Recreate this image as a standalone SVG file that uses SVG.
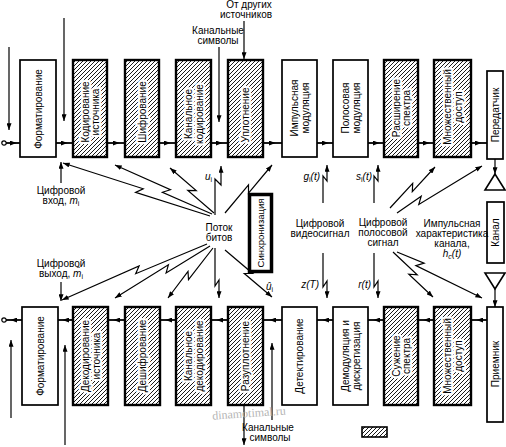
<svg xmlns="http://www.w3.org/2000/svg" width="506" height="447" viewBox="0 0 506 447">
<defs>
<pattern id="hatch" patternUnits="userSpaceOnUse" width="4" height="4">
<path d="M-1,1 L1,-1 M0,4 L4,0 M3,5 L5,3" stroke="#000" stroke-width="0.9"/>
</pattern>
<marker id="ah" viewBox="0 0 8 6" refX="8" refY="3" markerWidth="7" markerHeight="5" orient="auto" markerUnits="userSpaceOnUse"><path d="M0,0 L8,3 L0,6 z" fill="#000"/></marker>
<marker id="am" viewBox="0 0 8 6" refX="5" refY="3" markerWidth="7" markerHeight="5" orient="auto" markerUnits="userSpaceOnUse"><path d="M0,0 L8,3 L0,6 z" fill="#000"/></marker>
<style>
.box{fill:#fff;stroke:#000;stroke-width:1.7}
.hbox{fill:url(#hatch);stroke:#000;stroke-width:2.4}
.lbl{font-family:"Liberation Sans",Arial,sans-serif;font-size:10px;fill:#000}
.halo{stroke:#fff;stroke-width:4.5px;stroke-linejoin:round;paint-order:stroke}
.conn{fill:none;stroke:#000;stroke-width:1.2}
.flow{fill:none;stroke:#000;stroke-width:1.8}
.it{font-style:italic}
</style>
</defs>
<rect width="506" height="447" fill="#fff"/>

<g id="connectors">
<circle cx="4" cy="143" r="2.2" fill="#fff" stroke="#000" stroke-width="1.2"/>
<path class="flow" marker-mid="url(#am)" d="M6,143 H14 H20"/>
<path class="flow" marker-mid="url(#am)" d="M56,143 H65 H73"/>
<path class="flow" marker-mid="url(#am)" d="M107,143 H117 H125"/>
<path class="flow" marker-mid="url(#am)" d="M159,143 H168 H176"/>
<path class="flow" marker-mid="url(#am)" d="M211,143 H220 H228"/>
<path class="flow" marker-mid="url(#am)" d="M263,143 H273 H282"/>
<path class="flow" marker-mid="url(#am)" d="M317,143 H326 H333"/>
<path class="flow" marker-mid="url(#am)" d="M368,143 H377 H384"/>
<path class="flow" marker-mid="url(#am)" d="M418,143 H427 H434"/>
<path class="flow" marker-mid="url(#am)" d="M471,143 H479 H487"/>
<circle cx="4" cy="320" r="2.2" fill="#fff" stroke="#000" stroke-width="1.2"/>
<path class="flow" marker-mid="url(#am)" d="M22,320 H13 H6"/>
<path class="flow" marker-mid="url(#am)" d="M73,320 H65 H58"/>
<path class="flow" marker-mid="url(#am)" d="M125,320 H116 H108"/>
<path class="flow" marker-mid="url(#am)" d="M176,320 H168 H160"/>
<path class="flow" marker-mid="url(#am)" d="M228,320 H219 H211"/>
<path class="flow" marker-mid="url(#am)" d="M282,320 H272 H263"/>
<path class="flow" marker-mid="url(#am)" d="M333,320 H325 H317"/>
<path class="flow" marker-mid="url(#am)" d="M384,320 H376 H368"/>
<path class="flow" marker-mid="url(#am)" d="M434,320 H426 H418"/>
<path class="flow" marker-mid="url(#am)" d="M487,320 H479 H471"/>
<path class="conn" marker-end="url(#ah)" d="M495,159 V174"/>
<path class="conn" marker-end="url(#ah)" d="M495,289 V307"/>
<path class="conn" marker-end="url(#ah)" d="M9,47 V130"/>
<path class="conn" marker-end="url(#ah)" d="M64,18 V121"/>
<path class="conn" marker-end="url(#ah)" d="M11,418 V340"/>
<path class="conn" marker-end="url(#ah)" d="M65,445 V345"/>
<path class="conn" marker-end="url(#ah)" d="M219,47 V122"/>
<path class="conn" marker-end="url(#ah)" d="M244,21 V59"/>
<path class="conn" marker-end="url(#ah)" d="M244,405 V445"/>
<path class="conn" marker-end="url(#ah)" d="M272,420 V343"/>
<path class="conn" marker-end="url(#ah)" d="M61,183 V162"/>
<path class="conn" marker-end="url(#ah)" d="M61,282 V301"/>
<polyline class="conn" marker-end="url(#ah)" points="210,216 135.6,192.4 143.2,188.8 63,163"/>
<polyline class="conn" marker-end="url(#ah)" points="212,214 162.4,192.3 170.4,189.7 115,165"/>
<polyline class="conn" marker-end="url(#ah)" points="214,213 187.8,190.4 196.2,190.6 170,168"/>
<polyline class="conn" marker-end="url(#ah)" points="215,215 215,179 221,185 221,166"/>
<polyline class="conn" marker-end="url(#ah)" points="225,213 248.5,184.8 248.5,193.2 272,165"/>
<polyline class="conn" marker-end="url(#ah)" points="323,203 323,176 327,181 327,165"/>
<polyline class="conn" marker-end="url(#ah)" points="374,203 374,176 378,181 378,165"/>
<polyline class="conn" marker-end="url(#ah)" points="390,208 412.7,183.3 412.3,191.7 435,167"/>
<polyline class="conn" marker-end="url(#ah)" points="397,213 421.2,196.2 418.8,204.4 482,166"/>
<polyline class="conn" marker-end="url(#ah)" points="207,244 135.7,273.7 139.1,265.9 62,300"/>
<polyline class="conn" marker-end="url(#ah)" points="210,246 166.1,272.9 168.4,264.8 115,298"/>
<polyline class="conn" marker-end="url(#ah)" points="213,248 188.5,279.7 188,271.3 168,298"/>
<polyline class="conn" marker-end="url(#ah)" points="215,248 215,286 219,280 219,298"/>
<polyline class="conn" marker-end="url(#ah)" points="225,250 252.7,273.5 244.3,273.5 272,297"/>
<polyline class="conn" marker-end="url(#ah)" points="323,253 323,287 327,281 327,298"/>
<polyline class="conn" marker-end="url(#ah)" points="374,253 374,287 378,281 378,298"/>
<polyline class="conn" marker-end="url(#ah)" points="393,252 417.2,274.8 408.8,274.2 433,297"/>
<polyline class="conn" marker-end="url(#ah)" points="397,252 424.1,263.2 415.9,265.6 482,298"/>
</g>

<g id="tx-format"><rect class="box" x="20" y="60" width="36" height="97"/>
<text class="lbl" text-anchor="middle" transform="translate(41.5,109) rotate(-90)">Форматирование</text></g>
<g id="tx-source-coding"><rect class="hbox" x="73" y="60" width="34" height="97"/>
<text class="lbl halo" text-anchor="middle" transform="translate(88.5,112) rotate(-90)"><tspan x="0" y="0">Кодирование</tspan><tspan x="0" y="10.5">источника</tspan></text></g>
<g id="tx-encryption"><rect class="hbox" x="125" y="60" width="34" height="97"/>
<text class="lbl halo" text-anchor="middle" transform="translate(145.5,112) rotate(-90)">Шифрование</text></g>
<g id="tx-channel-coding"><rect class="hbox" x="176" y="60" width="35" height="97"/>
<text class="lbl halo" text-anchor="middle" transform="translate(192,114) rotate(-90)"><tspan x="0" y="0">Канальное</tspan><tspan x="0" y="10.5">кодирование</tspan></text></g>
<g id="tx-multiplex"><rect class="hbox" x="228" y="60" width="35" height="97"/>
<text class="lbl halo" text-anchor="middle" transform="translate(249,115) rotate(-90)">Уплотнение</text></g>
<g id="tx-pulse-mod"><rect class="box" x="282" y="60" width="35" height="97"/>
<text class="lbl" text-anchor="middle" transform="translate(298,108) rotate(-90)"><tspan x="0" y="0">Импульсная</tspan><tspan x="0" y="10.5">модуляция</tspan></text></g>
<g id="tx-band-mod"><rect class="box" x="333" y="60" width="35" height="97"/>
<text class="lbl" text-anchor="middle" transform="translate(349,108) rotate(-90)"><tspan x="0" y="0">Полосовая</tspan><tspan x="0" y="10.5">модуляция</tspan></text></g>
<g id="tx-spread"><rect class="hbox" x="384" y="60" width="34" height="97"/>
<text class="lbl halo" text-anchor="middle" transform="translate(399.5,108) rotate(-90)"><tspan x="0" y="0">Расширение</tspan><tspan x="0" y="10.5">спектра</tspan></text></g>
<g id="tx-access"><rect class="hbox" x="434" y="60" width="37" height="97"/>
<text class="lbl halo" text-anchor="middle" transform="translate(451,107) rotate(-90)"><tspan x="0" y="0">Множественный</tspan><tspan x="0" y="10.5">доступ</tspan></text></g>
<g id="transmitter"><rect class="box" x="487" y="71" width="16" height="88"/>
<text class="lbl" text-anchor="middle" transform="translate(498.5,115) rotate(-90)">Передатчик</text></g>

<g id="tx-antenna"><polygon points="495,174 485,190 505,190" fill="#fff" stroke="#000" stroke-width="1.6"/></g>
<g id="channel"><rect class="box" x="487" y="202" width="17" height="61"/>
<text class="lbl" text-anchor="middle" transform="translate(499,232.5) rotate(-90)">Канал</text></g>
<g id="rx-antenna"><polygon points="485,273 505,273 495,289" fill="#fff" stroke="#000" stroke-width="1.6"/></g>

<g id="sync"><rect x="249.5" y="194.5" width="22" height="77" fill="#fff" stroke="#000" stroke-width="3.5"/>
<text class="lbl" text-anchor="middle" transform="translate(263.5,233) rotate(-90)" style="font-size:9.5px">Синхронизация</text></g>

<g id="rx-format"><rect class="box" x="22" y="307" width="36" height="98"/>
<text class="lbl" text-anchor="middle" transform="translate(43.5,356) rotate(-90)">Форматирование</text></g>
<g id="rx-source-decoding"><rect class="hbox" x="73" y="307" width="35" height="98"/>
<text class="lbl halo" text-anchor="middle" transform="translate(89,356) rotate(-90)"><tspan x="0" y="0">Декодирование</tspan><tspan x="0" y="10.5">источника</tspan></text></g>
<g id="rx-decryption"><rect class="hbox" x="125" y="307" width="35" height="98"/>
<text class="lbl halo" text-anchor="middle" transform="translate(146,356) rotate(-90)">Дешифрование</text></g>
<g id="rx-channel-decoding"><rect class="hbox" x="176" y="307" width="35" height="98"/>
<text class="lbl halo" text-anchor="middle" transform="translate(192,356) rotate(-90)"><tspan x="0" y="0">Канальное</tspan><tspan x="0" y="10.5">декодирование</tspan></text></g>
<g id="rx-demultiplex"><rect class="hbox" x="228" y="307" width="35" height="98"/>
<text class="lbl halo" text-anchor="middle" transform="translate(249,356) rotate(-90)">Разуплотнение</text></g>
<g id="rx-detect"><rect class="box" x="282" y="307" width="35" height="98"/>
<text class="lbl" text-anchor="middle" transform="translate(303,356) rotate(-90)">Детектирование</text></g>
<g id="rx-demod"><rect class="box" x="333" y="307" width="35" height="98"/>
<text class="lbl" text-anchor="middle" transform="translate(349,356) rotate(-90)"><tspan x="0" y="0">Демодуляция и</tspan><tspan x="0" y="10.5">дискретизация</tspan></text></g>
<g id="rx-despread"><rect class="hbox" x="384" y="307" width="34" height="98"/>
<text class="lbl halo" text-anchor="middle" transform="translate(399.5,356) rotate(-90)"><tspan x="0" y="0">Сужение</tspan><tspan x="0" y="10.5">спектра</tspan></text></g>
<g id="rx-access"><rect class="hbox" x="434" y="307" width="37" height="98"/>
<text class="lbl halo" text-anchor="middle" transform="translate(451,356) rotate(-90)"><tspan x="0" y="0">Множественный</tspan><tspan x="0" y="10.5">доступ</tspan></text></g>
<g id="receiver"><rect class="box" x="487" y="307" width="16" height="115"/>
<text class="lbl" text-anchor="middle" transform="translate(498.5,364) rotate(-90)">Приемник</text></g>

<g id="labels" class="lbl">
<text x="249" y="8" text-anchor="middle">От других</text>
<text x="246" y="18" text-anchor="middle">источников</text>
<text x="218" y="34" text-anchor="middle">Канальные</text>
<text x="218" y="44" text-anchor="middle">символы</text>
<text x="61" y="194" text-anchor="middle">Цифровой</text>
<text x="61" y="204" text-anchor="middle">вход, <tspan class="it">m</tspan><tspan font-size="7" dy="2">i</tspan></text>
<text x="61" y="267" text-anchor="middle">Цифровой</text>
<text x="61" y="277" text-anchor="middle">выход, <tspan class="it">m̂</tspan><tspan font-size="7" dy="2">i</tspan></text>
<text x="219" y="231" text-anchor="middle">Поток</text>
<text x="219" y="241" text-anchor="middle">битов</text>
<text x="320" y="227" text-anchor="middle">Цифровой</text>
<text x="320" y="237" text-anchor="middle">видеосигнал</text>
<text x="383" y="226" text-anchor="middle">Цифровой</text>
<text x="383" y="236" text-anchor="middle">полосовой</text>
<text x="383" y="246" text-anchor="middle">сигнал</text>
<text x="452" y="227" text-anchor="middle">Импульсная</text>
<text x="452" y="237" text-anchor="middle">характеристика</text>
<text x="452" y="247" text-anchor="middle">канала,</text>
<text x="452" y="257" text-anchor="middle"><tspan class="it">h</tspan><tspan font-size="7" dy="2" class="it">c</tspan><tspan dy="-2" class="it">(t)</tspan></text>
<text x="212" y="180" text-anchor="end"><tspan class="it">u</tspan><tspan font-size="7" dy="2">i</tspan></text>
<text x="266" y="290"><tspan class="it">û</tspan><tspan font-size="7" dy="2">i</tspan></text>
<text x="320" y="180" text-anchor="end"><tspan class="it">g</tspan><tspan font-size="7" dy="2">i</tspan><tspan dy="-2" class="it">(t)</tspan></text>
<text x="372" y="180" text-anchor="end"><tspan class="it">s</tspan><tspan font-size="7" dy="2">i</tspan><tspan dy="-2" class="it">(t)</tspan></text>
<text x="319" y="288" text-anchor="end" class="it">z(T)</text>
<text x="371" y="288" text-anchor="end" class="it">r(t)</text>
<text x="268" y="431" text-anchor="middle">Канальные</text>
<text x="270" y="441" text-anchor="middle">символы</text>
<text x="212" y="417" transform="rotate(-4 250 412)" style="font-family:'Liberation Serif',serif;font-size:12px;fill:#b5b5b5">dinamotimal.ru</text>
</g>

<g id="legend"><rect x="362" y="427" width="25" height="10" fill="url(#hatch)" stroke="#000" stroke-width="1.6"/></g>
</svg>
